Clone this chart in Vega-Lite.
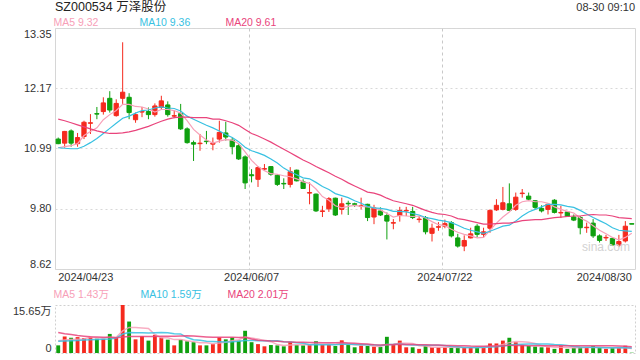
{
  "$schema": "https://vega.github.io/schema/vega-lite/v6.json",
  "padding": {"left": 11, "top": 1, "right": 6, "bottom": 0},
  "title": {"text": "SZ000534 万泽股份", "anchor": "start", "frame": "group", "fontSize": 12.5, "fontWeight": "normal", "color": "#222", "offset": 0, "dy": 12},
  "datasets": {
    "k": [
{"d":"2024/04/23","o":11.17,"h":11.20,"l":11.07,"c":11.08,"v":2.49,"m5":11.00,"m10":11.00,"m20":11.56,"vm5":4.0,"vm10":3.8,"vm20":6.7},
{"d":"2024/04/24","o":11.09,"h":11.33,"l":11.00,"c":11.32,"v":5.39,"m5":11.02,"m10":10.99,"m20":11.53,"vm5":4.2,"vm10":3.9,"vm20":6.3},
{"d":"2024/04/25","o":11.33,"h":11.36,"l":11.02,"c":11.09,"v":4.97,"m5":11.04,"m10":10.98,"m20":11.49,"vm5":4.4,"vm10":4.0,"vm20":6.0},
{"d":"2024/04/26","o":11.08,"h":11.29,"l":11.02,"c":11.20,"v":5.18,"m5":11.08,"m10":10.98,"m20":11.45,"vm5":4.5,"vm10":4.1,"vm20":5.7},
{"d":"2024/04/29","o":11.22,"h":11.53,"l":11.17,"c":11.50,"v":4.87,"m5":11.24,"m10":11.03,"m20":11.41,"vm5":4.58,"vm10":4.2,"vm20":5.5},
{"d":"2024/04/30","o":11.48,"h":11.66,"l":11.27,"c":11.49,"v":5.28,"m5":11.32,"m10":11.10,"m20":11.37,"vm5":5.14,"vm10":4.3,"vm20":5.3},
{"d":"2024/05/06","o":11.67,"h":11.80,"l":11.56,"c":11.66,"v":4.66,"m5":11.39,"m10":11.18,"m20":11.33,"vm5":4.99,"vm10":4.4,"vm20":5.2},
{"d":"2024/05/07","o":11.71,"h":11.99,"l":11.65,"c":11.88,"v":4.66,"m5":11.55,"m10":11.28,"m20":11.30,"vm5":4.93,"vm10":4.5,"vm20":5.1},
{"d":"2024/05/08","o":11.97,"h":12.11,"l":11.69,"c":11.74,"v":6.22,"m5":11.65,"m10":11.38,"m20":11.28,"vm5":5.14,"vm10":4.6,"vm20":5.1},
{"d":"2024/05/09","o":11.63,"h":11.95,"l":11.61,"c":11.87,"v":4.87,"m5":11.73,"m10":11.48,"m20":11.28,"vm5":5.14,"vm10":4.86,"vm20":5.0},
{"d":"2024/05/10","o":11.97,"h":13.07,"l":11.86,"c":12.09,"v":15.65,"m5":11.85,"m10":11.58,"m20":11.29,"vm5":7.21,"vm10":6.18,"vm20":5.2},
{"d":"2024/05/13","o":11.99,"h":12.07,"l":11.56,"c":11.69,"v":10.26,"m5":11.85,"m10":11.62,"m20":11.31,"vm5":8.33,"vm10":6.66,"vm20":5.4},
{"d":"2024/05/14","o":11.55,"h":11.69,"l":11.49,"c":11.65,"v":4.45,"m5":11.81,"m10":11.68,"m20":11.34,"vm5":8.29,"vm10":6.61,"vm20":5.4},
{"d":"2024/05/15","o":11.70,"h":11.80,"l":11.60,"c":11.71,"v":5.49,"m5":11.80,"m10":11.73,"m20":11.38,"vm5":8.14,"vm10":6.64,"vm20":5.4},
{"d":"2024/05/16","o":11.71,"h":11.79,"l":11.56,"c":11.65,"v":4.04,"m5":11.76,"m10":11.74,"m20":11.42,"vm5":7.98,"vm10":6.56,"vm20":5.4},
{"d":"2024/05/17","o":11.65,"h":11.87,"l":11.61,"c":11.82,"v":5.91,"m5":11.70,"m10":11.78,"m20":11.47,"vm5":6.03,"vm10":6.62,"vm20":5.4},
{"d":"2024/05/20","o":11.79,"h":12.02,"l":11.76,"c":11.92,"v":5.08,"m5":11.75,"m10":11.80,"m20":11.52,"vm5":4.99,"vm10":6.66,"vm20":5.5},
{"d":"2024/05/21","o":11.84,"h":11.91,"l":11.61,"c":11.65,"v":4.35,"m5":11.75,"m10":11.78,"m20":11.56,"vm5":4.97,"vm10":6.63,"vm20":5.5},
{"d":"2024/05/22","o":11.62,"h":11.73,"l":11.58,"c":11.63,"v":2.49,"m5":11.73,"m10":11.77,"m20":11.59,"vm5":4.37,"vm10":6.26,"vm20":5.5},
{"d":"2024/05/23","o":11.67,"h":11.86,"l":11.35,"c":11.37,"v":4.35,"m5":11.68,"m10":11.72,"m20":11.60,"vm5":4.44,"vm10":6.21,"vm20":5.53},
{"d":"2024/05/24","o":11.37,"h":11.40,"l":11.08,"c":11.10,"v":3.83,"m5":11.53,"m10":11.62,"m20":11.60,"vm5":4.02,"vm10":5.03,"vm20":5.60},
{"d":"2024/05/27","o":11.10,"h":11.14,"l":10.74,"c":11.07,"v":3.52,"m5":11.36,"m10":11.56,"m20":11.59,"vm5":3.71,"vm10":4.35,"vm20":5.51},
{"d":"2024/05/28","o":11.08,"h":11.27,"l":10.94,"c":11.09,"v":2.49,"m5":11.25,"m10":11.50,"m20":11.59,"vm5":3.34,"vm10":4.16,"vm20":5.38},
{"d":"2024/05/29","o":11.13,"h":11.33,"l":11.07,"c":11.12,"v":2.49,"m5":11.15,"m10":11.44,"m20":11.59,"vm5":3.34,"vm10":3.86,"vm20":5.25},
{"d":"2024/05/30","o":11.07,"h":11.20,"l":10.95,"c":11.09,"v":2.90,"m5":11.09,"m10":11.39,"m20":11.56,"vm5":3.05,"vm10":3.74,"vm20":5.15},
{"d":"2024/05/31","o":11.17,"h":11.53,"l":11.10,"c":11.30,"v":5.08,"m5":11.13,"m10":11.33,"m20":11.56,"vm5":3.30,"vm10":3.66,"vm20":5.14},
{"d":"2024/06/03","o":11.29,"h":11.51,"l":11.14,"c":11.21,"v":4.45,"m5":11.16,"m10":11.26,"m20":11.53,"vm5":3.48,"vm10":3.60,"vm20":5.13},
{"d":"2024/06/04","o":11.15,"h":11.20,"l":10.87,"c":11.02,"v":5.08,"m5":11.15,"m10":11.20,"m20":11.49,"vm5":4.00,"vm10":3.67,"vm20":5.15},
{"d":"2024/06/05","o":11.04,"h":11.07,"l":10.76,"c":10.78,"v":4.04,"m5":11.08,"m10":11.12,"m20":11.44,"vm5":4.31,"vm10":3.82,"vm20":5.04},
{"d":"2024/06/06","o":10.82,"h":10.85,"l":10.19,"c":10.31,"v":7.25,"m5":10.92,"m10":11.01,"m20":11.36,"vm5":5.18,"vm10":4.11,"vm20":5.16},
{"d":"2024/06/07","o":10.47,"h":10.58,"l":10.32,"c":10.45,"v":3.52,"m5":10.75,"m10":10.94,"m20":11.28,"vm5":4.87,"vm10":4.08,"vm20":4.55},
{"d":"2024/06/11","o":10.38,"h":10.64,"l":10.23,"c":10.61,"v":2.90,"m5":10.63,"m10":10.90,"m20":11.23,"vm5":4.56,"vm10":4.02,"vm20":4.19},
{"d":"2024/06/12","o":10.58,"h":10.68,"l":10.55,"c":10.59,"v":2.18,"m5":10.55,"m10":10.85,"m20":11.17,"vm5":3.98,"vm10":3.99,"vm20":4.07},
{"d":"2024/06/13","o":10.63,"h":10.64,"l":10.45,"c":10.48,"v":2.59,"m5":10.49,"m10":10.78,"m20":11.11,"vm5":3.69,"vm10":4.00,"vm20":3.93},
{"d":"2024/06/14","o":10.46,"h":10.48,"l":10.25,"c":10.28,"v":2.49,"m5":10.48,"m10":10.70,"m20":11.04,"vm5":2.74,"vm10":3.96,"vm20":3.85},
{"d":"2024/06/17","o":10.30,"h":10.40,"l":10.19,"c":10.29,"v":2.18,"m5":10.45,"m10":10.60,"m20":10.97,"vm5":2.47,"vm10":3.67,"vm20":3.66},
{"d":"2024/06/18","o":10.28,"h":10.62,"l":10.22,"c":10.53,"v":3.63,"m5":10.43,"m10":10.53,"m20":10.90,"vm5":2.61,"vm10":3.59,"vm20":3.59},
{"d":"2024/06/19","o":10.56,"h":10.57,"l":10.34,"c":10.35,"v":2.59,"m5":10.39,"m10":10.47,"m20":10.83,"vm5":2.70,"vm10":3.34,"vm20":3.50},
{"d":"2024/06/20","o":10.33,"h":10.38,"l":10.19,"c":10.20,"v":2.49,"m5":10.33,"m10":10.41,"m20":10.76,"vm5":2.68,"vm10":3.18,"vm20":3.50},
{"d":"2024/06/21","o":10.11,"h":10.32,"l":9.89,"c":10.12,"v":2.59,"m5":10.30,"m10":10.39,"m20":10.70,"vm5":2.70,"vm10":2.72,"vm20":3.41},
{"d":"2024/06/24","o":10.09,"h":10.10,"l":9.74,"c":9.76,"v":3.83,"m5":10.19,"m10":10.32,"m20":10.63,"vm5":3.03,"vm10":2.75,"vm20":3.41},
{"d":"2024/06/25","o":9.75,"h":9.86,"l":9.64,"c":9.76,"v":2.59,"m5":10.04,"m10":10.24,"m20":10.57,"vm5":2.82,"vm10":2.72,"vm20":3.37},
{"d":"2024/06/26","o":9.80,"h":10.03,"l":9.74,"c":10.00,"v":2.59,"m5":9.97,"m10":10.18,"m20":10.51,"vm5":2.82,"vm10":2.76,"vm20":3.37},
{"d":"2024/06/27","o":10.01,"h":10.02,"l":9.66,"c":9.68,"v":2.28,"m5":9.86,"m10":10.10,"m20":10.44,"vm5":2.78,"vm10":2.73,"vm20":3.36},
{"d":"2024/06/28","o":9.79,"h":10.02,"l":9.69,"c":9.90,"v":4.14,"m5":9.82,"m10":10.06,"m20":10.38,"vm5":3.09,"vm10":2.89,"vm20":3.42},
{"d":"2024/07/01","o":9.91,"h":9.96,"l":9.68,"c":9.90,"v":2.59,"m5":9.85,"m10":10.02,"m20":10.31,"vm5":2.84,"vm10":2.93,"vm20":3.30},
{"d":"2024/07/02","o":9.90,"h":9.92,"l":9.84,"c":9.89,"v":1.86,"m5":9.87,"m10":9.96,"m20":10.25,"vm5":2.69,"vm10":2.76,"vm20":3.17},
{"d":"2024/07/03","o":9.85,"h":10.02,"l":9.79,"c":9.86,"v":2.38,"m5":9.85,"m10":9.91,"m20":10.19,"vm5":2.65,"vm10":2.73,"vm20":3.04},
{"d":"2024/07/04","o":9.89,"h":9.90,"l":9.56,"c":9.63,"v":2.28,"m5":9.84,"m10":9.85,"m20":10.13,"vm5":2.65,"vm10":2.71,"vm20":2.95},
{"d":"2024/07/05","o":9.64,"h":9.88,"l":9.50,"c":9.82,"v":2.07,"m5":9.82,"m10":9.82,"m20":10.11,"vm5":2.24,"vm10":2.66,"vm20":2.69},
{"d":"2024/07/08","o":9.76,"h":9.83,"l":9.66,"c":9.68,"v":1.97,"m5":9.78,"m10":9.81,"m20":10.07,"vm5":2.11,"vm10":2.48,"vm20":2.61},
{"d":"2024/07/09","o":9.67,"h":9.73,"l":9.20,"c":9.56,"v":5.28,"m5":9.71,"m10":9.79,"m20":10.01,"vm5":2.80,"vm10":2.74,"vm20":2.73},
{"d":"2024/07/10","o":9.52,"h":9.60,"l":9.40,"c":9.53,"v":2.59,"m5":9.64,"m10":9.75,"m20":9.96,"vm5":2.84,"vm10":2.74,"vm20":2.75},
{"d":"2024/07/11","o":9.67,"h":9.84,"l":9.55,"c":9.77,"v":4.04,"m5":9.67,"m10":9.75,"m20":9.93,"vm5":3.19,"vm10":2.92,"vm20":2.82},
{"d":"2024/07/12","o":9.76,"h":9.84,"l":9.66,"c":9.77,"v":1.86,"m5":9.66,"m10":9.74,"m20":9.90,"vm5":3.15,"vm10":2.69,"vm20":2.79},
{"d":"2024/07/15","o":9.75,"h":9.84,"l":9.60,"c":9.63,"v":1.86,"m5":9.65,"m10":9.71,"m20":9.87,"vm5":3.13,"vm10":2.62,"vm20":2.78},
{"d":"2024/07/16","o":9.59,"h":9.66,"l":9.53,"c":9.60,"v":1.35,"m5":9.66,"m10":9.68,"m20":9.82,"vm5":2.34,"vm10":2.57,"vm20":2.66},
{"d":"2024/07/17","o":9.63,"h":9.66,"l":9.30,"c":9.35,"v":2.28,"m5":9.62,"m10":9.63,"m20":9.77,"vm5":2.28,"vm10":2.56,"vm20":2.65},
{"d":"2024/07/18","o":9.32,"h":9.51,"l":9.16,"c":9.42,"v":1.86,"m5":9.55,"m10":9.61,"m20":9.73,"vm5":1.84,"vm10":2.52,"vm20":2.61},
{"d":"2024/07/19","o":9.44,"h":9.54,"l":9.37,"c":9.45,"v":1.86,"m5":9.49,"m10":9.58,"m20":9.70,"vm5":1.84,"vm10":2.50,"vm20":2.58},
{"d":"2024/07/22","o":9.46,"h":9.59,"l":9.42,"c":9.51,"v":1.86,"m5":9.47,"m10":9.56,"m20":9.69,"vm5":1.84,"vm10":2.48,"vm20":2.48},
{"d":"2024/07/23","o":9.53,"h":9.56,"l":9.24,"c":9.27,"v":1.66,"m5":9.40,"m10":9.53,"m20":9.66,"vm5":1.90,"vm10":2.12,"vm20":2.43},
{"d":"2024/07/24","o":9.23,"h":9.31,"l":9.04,"c":9.07,"v":1.86,"m5":9.34,"m10":9.48,"m20":9.61,"vm5":1.82,"vm10":2.05,"vm20":2.40},
{"d":"2024/07/25","o":9.07,"h":9.28,"l":8.97,"c":9.18,"v":1.86,"m5":9.30,"m10":9.42,"m20":9.59,"vm5":1.82,"vm10":1.83,"vm20":2.38},
{"d":"2024/07/26","o":9.23,"h":9.43,"l":9.22,"c":9.31,"v":1.86,"m5":9.27,"m10":9.38,"m20":9.56,"vm5":1.82,"vm10":1.83,"vm20":2.26},
{"d":"2024/07/29","o":9.46,"h":9.50,"l":9.24,"c":9.30,"v":1.86,"m5":9.23,"m10":9.35,"m20":9.53,"vm5":1.82,"vm10":1.83,"vm20":2.23},
{"d":"2024/07/30","o":9.30,"h":9.43,"l":9.23,"c":9.35,"v":1.66,"m5":9.24,"m10":9.32,"m20":9.50,"vm5":1.82,"vm10":1.86,"vm20":2.22},
{"d":"2024/07/31","o":9.42,"h":9.79,"l":9.33,"c":9.77,"v":3.11,"m5":9.38,"m10":9.36,"m20":9.50,"vm5":2.07,"vm10":1.95,"vm20":2.25},
{"d":"2024/08/01","o":9.78,"h":9.99,"l":9.76,"c":9.87,"v":3.11,"m5":9.52,"m10":9.41,"m20":9.51,"vm5":2.32,"vm10":2.07,"vm20":2.29},
{"d":"2024/08/02","o":9.79,"h":10.23,"l":9.77,"c":9.92,"v":4.04,"m5":9.64,"m10":9.46,"m20":9.52,"vm5":2.76,"vm10":2.29,"vm20":2.39},
{"d":"2024/08/05","o":9.90,"h":10.30,"l":9.77,"c":9.77,"v":4.97,"m5":9.74,"m10":9.48,"m20":9.52,"vm5":3.38,"vm10":2.60,"vm20":2.54},
{"d":"2024/08/06","o":9.79,"h":10.12,"l":9.76,"c":10.03,"v":3.52,"m5":9.87,"m10":9.56,"m20":9.54,"vm5":3.75,"vm10":2.79,"vm20":2.45},
{"d":"2024/08/07","o":10.10,"h":10.19,"l":10.02,"c":10.11,"v":2.59,"m5":9.94,"m10":9.66,"m20":9.57,"vm5":3.65,"vm10":2.86,"vm20":2.45},
{"d":"2024/08/08","o":10.05,"h":10.12,"l":9.96,"c":9.99,"v":2.28,"m5":9.96,"m10":9.74,"m20":9.58,"vm5":3.48,"vm10":2.90,"vm20":2.37},
{"d":"2024/08/09","o":9.96,"h":9.97,"l":9.79,"c":9.83,"v":2.07,"m5":9.94,"m10":9.79,"m20":9.59,"vm5":3.09,"vm10":2.92,"vm20":2.38},
{"d":"2024/08/12","o":9.81,"h":9.87,"l":9.73,"c":9.76,"v":1.86,"m5":9.94,"m10":9.84,"m20":9.59,"vm5":2.46,"vm10":2.92,"vm20":2.38},
{"d":"2024/08/13","o":9.79,"h":9.90,"l":9.69,"c":9.89,"v":1.86,"m5":9.91,"m10":9.89,"m20":9.61,"vm5":2.13,"vm10":2.94,"vm20":2.40},
{"d":"2024/08/14","o":9.97,"h":9.99,"l":9.71,"c":9.73,"v":1.35,"m5":9.84,"m10":9.89,"m20":9.63,"vm5":1.88,"vm10":2.77,"vm20":2.36},
{"d":"2024/08/15","o":9.72,"h":9.86,"l":9.62,"c":9.73,"v":2.38,"m5":9.79,"m10":9.88,"m20":9.64,"vm5":1.90,"vm10":2.69,"vm20":2.38},
{"d":"2024/08/16","o":9.74,"h":9.76,"l":9.64,"c":9.65,"v":1.35,"m5":9.75,"m10":9.85,"m20":9.65,"vm5":1.76,"vm10":2.42,"vm20":2.36},
{"d":"2024/08/19","o":9.64,"h":9.69,"l":9.56,"c":9.58,"v":1.66,"m5":9.72,"m10":9.83,"m20":9.66,"vm5":1.72,"vm10":2.09,"vm20":2.35},
{"d":"2024/08/20","o":9.63,"h":9.66,"l":9.30,"c":9.43,"v":1.97,"m5":9.62,"m10":9.77,"m20":9.66,"vm5":1.74,"vm10":1.94,"vm20":2.36},
{"d":"2024/08/21","o":9.43,"h":9.53,"l":9.33,"c":9.44,"v":1.66,"m5":9.56,"m10":9.70,"m20":9.68,"vm5":1.80,"vm10":1.84,"vm20":2.35},
{"d":"2024/08/22","o":9.52,"h":9.60,"l":9.23,"c":9.27,"v":2.28,"m5":9.47,"m10":9.63,"m20":9.69,"vm5":1.78,"vm10":1.84,"vm20":2.37},
{"d":"2024/08/23","o":9.27,"h":9.30,"l":9.14,"c":9.18,"v":1.66,"m5":9.38,"m10":9.57,"m20":9.68,"vm5":1.85,"vm10":1.80,"vm20":2.36},
{"d":"2024/08/26","o":9.23,"h":9.29,"l":9.17,"c":9.24,"v":1.35,"m5":9.31,"m10":9.51,"m20":9.68,"vm5":1.78,"vm10":1.75,"vm20":2.34},
{"d":"2024/08/27","o":9.22,"h":9.23,"l":9.07,"c":9.09,"v":1.66,"m5":9.24,"m10":9.43,"m20":9.66,"vm5":1.72,"vm10":1.73,"vm20":2.34},
{"d":"2024/08/28","o":9.09,"h":9.29,"l":9.05,"c":9.16,"v":1.66,"m5":9.19,"m10":9.38,"m20":9.63,"vm5":1.72,"vm10":1.76,"vm20":2.26},
{"d":"2024/08/29","o":9.17,"h":9.56,"l":9.14,"c":9.46,"v":2.38,"m5":9.24,"m10":9.37,"m20":9.62,"vm5":1.74,"vm10":1.72,"vm20":2.20},
{"d":"2024/08/30","o":9.51,"h":9.51,"l":9.50,"c":9.50,"v":0.1,"m5":9.32,"m10":9.36,"m20":9.61,"vm5":1.43,"vm10":1.59,"vm20":2.01}
    ]
  },
  "data": {"name": "k"},
  "bounds": "flush",
  "spacing": 36,
  "resolve": {"scale": {"color": "independent"}, "legend": {"color": "independent"}},
  "vconcat": [
    {
      "width": 580,
      "height": 241,
      "title": {"text": "08-30 09:10", "anchor": "end", "frame": "group", "fontSize": 11, "fontWeight": "normal", "color": "#333", "offset": 5},
      "encoding": {
        "x": {
          "field": "d", "type": "ordinal", "title": null,
          "scale": {"paddingInner": 0, "paddingOuter": 0},
          "axis": {
            "values": ["2024/04/23", "2024/06/07", "2024/07/22", "2024/08/30"],
            "labelFlush": 8, "labelAngle": 0, "bandPosition": 0.2, "labelPadding": 2,
            "grid": true, "gridColor": "#c8c8c8", "gridDash": [3, 3],
            "gridOpacity": {"condition": {"test": "datum.value == '2024/04/23' || datum.value == '2024/08/30'", "value": 0}, "value": 1}
          }
        }
      },
      "layer": [
        {
          "mark": {"type": "rule", "strokeWidth": 1},
          "encoding": {
            "y": {
              "field": "l", "type": "quantitative", "title": null,
              "scale": {"domain": [8.62, 13.35], "zero": false, "nice": false},
              "axis": {"values": [8.62, 9.8, 10.99, 12.17, 13.35], "format": ".2f", "labelFlush": true, "grid": true, "gridColor": "#d8d8d8", "gridDash": [2, 3], "labelPadding": 4, "labelFontSize": 11}
            },
            "y2": {"field": "h"},
            "color": {"condition": {"test": "datum.c >= datum.o", "value": "#f52a1e"}, "value": "#0fa00f"}
          }
        },
        {
          "mark": {"type": "bar", "width": {"band": 0.66}, "strokeWidth": 1},
          "encoding": {
            "y": {"field": "o", "type": "quantitative", "title": null},
            "y2": {"field": "c"},
            "fill": {"condition": {"test": "datum.c >= datum.o", "value": "#f52a1e"}, "value": "#0fa00f"},
            "stroke": {"condition": {"test": "datum.c >= datum.o", "value": "#f52a1e"}, "value": "#0fa00f"}
          }
        },
        {
          "transform": [{"fold": ["m5", "m10", "m20"], "as": ["k", "val"]}],
          "mark": {"type": "line", "strokeWidth": 1.2},
          "encoding": {
            "y": {"field": "val", "type": "quantitative", "title": null},
            "color": {
              "field": "k", "type": "nominal",
              "scale": {"domain": ["m5", "m10", "m20"], "range": ["#f7a0b8", "#38c1e2", "#e9447c"]},
              "legend": {
                "title": null, "orient": "none", "legendX": -12, "legendY": -10, "direction": "horizontal",
                "symbolSize": 0, "symbolStrokeWidth": 0, "symbolOpacity": 0, "labelOffset": 0,
                "labelFontSize": 10.5, "columnPadding": 24, "gridAlign": "all",
                "labelExpr": "datum.value == 'm5' ? 'MA5 9.32' : datum.value == 'm10' ? 'MA10 9.36' : 'MA20 9.61'",
                "labelColor": {"expr": "datum.value == 'm5' ? '#f7a0b8' : datum.value == 'm10' ? '#38c1e2' : '#e9447c'"}
              }
            }
          }
        },
        {
          "data": {"values": [{"t": "sina.com"}]},
          "mark": {"type": "text", "fontSize": 12, "color": "#d2d2d2", "align": "center", "baseline": "middle"},
          "encoding": {
            "x": {"datum": "2024/08/26"},
            "y": {"datum": 9.06},
            "text": {"field": "t"}
          }
        }
      ]
    },
    {
      "width": 580,
      "height": 48,
      "view": {"stroke": "#d0d0d0", "strokeDash": [2, 2]},
      "encoding": {
        "x": {"field": "d", "type": "ordinal", "title": null, "scale": {"paddingInner": 0, "paddingOuter": 0}, "axis": null}
      },
      "layer": [
        {
          "mark": {"type": "bar", "width": {"band": 0.6}},
          "encoding": {
            "y": {
              "field": "v", "type": "quantitative", "title": null,
              "scale": {"domain": [0, 15.65], "nice": false},
              "axis": {"values": [0, 15.65], "labelFlush": true, "grid": false, "labelPadding": 4, "labelFontSize": 11,
                "labelExpr": "datum.value == 0 ? '0' : format(datum.value, '.2f') + '万'"}
            },
            "color": {"condition": {"test": "datum.c >= datum.o", "value": "#f52a1e"}, "value": "#0fa00f"}
          }
        },
        {
          "transform": [{"fold": ["vm5", "vm10", "vm20"], "as": ["k2", "val2"]}],
          "mark": {"type": "line", "strokeWidth": 1.5, "opacity": 0.85},
          "encoding": {
            "y": {"field": "val2", "type": "quantitative", "title": null},
            "color": {
              "field": "k2", "type": "nominal",
              "scale": {"domain": ["vm5", "vm10", "vm20"], "range": ["#f7a0b8", "#38c1e2", "#e9447c"]},
              "legend": {
                "title": null, "orient": "none", "legendX": -12, "legendY": -15, "direction": "horizontal",
                "symbolSize": 0, "symbolStrokeWidth": 0, "symbolOpacity": 0, "labelOffset": 0,
                "labelFontSize": 10.5, "columnPadding": 15, "gridAlign": "all",
                "labelExpr": "datum.value == 'vm5' ? 'MA5 1.43万' : datum.value == 'vm10' ? 'MA10 1.59万' : 'MA20 2.01万'",
                "labelColor": {"expr": "datum.value == 'vm5' ? '#f7a0b8' : datum.value == 'vm10' ? '#38c1e2' : '#e9447c'"}
              }
            }
          }
        }
      ]
    }
  ],
  "config": {
    "font": "Liberation Sans, Noto Sans CJK SC, sans-serif",
    "view": {"stroke": "#d6d6d6"},
    "axis": {"domain": false, "ticks": false, "labelColor": "#333", "labelFontSize": 11},
    "legend": {"labelFont": "Liberation Sans, Noto Sans CJK SC, sans-serif"},
    "title": {"font": "Liberation Sans, Noto Sans CJK SC, sans-serif"}
  }
}
